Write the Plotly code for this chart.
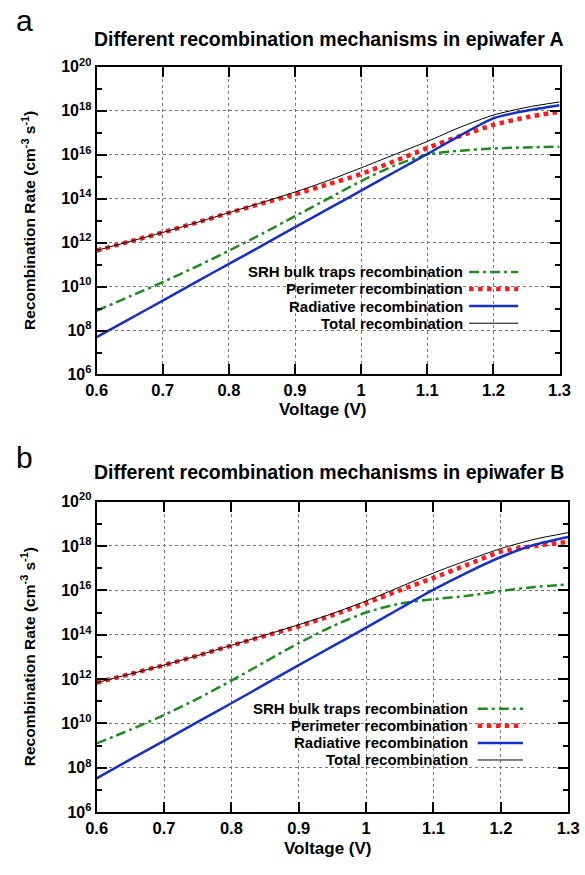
import plotly.graph_objects as go

# ---------------- data (exponents of the recombination rate, cm^-3 s^-1) -------------
voltage = [0.60, 0.65, 0.70, 0.75, 0.80, 0.85, 0.90, 0.95, 1.00, 1.05, 1.10, 1.15, 1.20, 1.25, 1.30]

srh_a_exp = [8.9, 9.55, 10.2, 10.9, 11.63, 12.4, 13.2, 14.0, 14.8, 15.5, 16.0, 16.18, 16.28, 16.33, 16.36]
per_a_exp = [11.64, 12.05, 12.46, 12.9, 13.35, 13.78, 14.2, 14.65, 15.12, 15.7, 16.3, 16.85, 17.35, 17.7, 17.95]
rad_a_exp = [7.7, 8.53, 9.36, 10.2, 11.03, 11.86, 12.7, 13.53, 14.36, 15.2, 16.03, 16.88, 17.65, 18.0, 18.25]
tot_a_exp = [11.64, 12.05, 12.46, 12.9, 13.36, 13.82, 14.3, 14.82, 15.4, 16.0, 16.6, 17.25, 17.8, 18.15, 18.4]

srh_b_exp = [9.1, 9.72, 10.38, 11.12, 11.93, 12.78, 13.62, 14.38, 15.0, 15.4, 15.6, 15.75, 15.97, 16.15, 16.26]
per_b_exp = [11.84, 12.23, 12.63, 13.06, 13.51, 13.95, 14.38, 14.88, 15.42, 16.0, 16.56, 17.15, 17.74, 18.0, 18.18]
rad_b_exp = [7.53, 8.38, 9.22, 10.07, 10.91, 11.77, 12.63, 13.47, 14.32, 15.18, 16.03, 16.8, 17.5, 18.05, 18.4]
tot_b_exp = [11.84, 12.23, 12.63, 13.06, 13.52, 13.98, 14.45, 14.95, 15.52, 16.15, 16.78, 17.35, 17.88, 18.3, 18.6]

series_names = ["SRH bulk traps recombination", "Perimeter recombination",
                "Radiative recombination", "Total recombination"]
x_ticks = [0.6, 0.7, 0.8, 0.9, 1.0, 1.1, 1.2, 1.3]
x_ticklabels = ["0.6", "0.7", "0.8", "0.9", "1", "1.1", "1.2", "1.3"]
y_tick_exps = [6, 8, 10, 12, 14, 16, 18, 20]
y_minor_exps = [7, 9, 11, 13, 15, 17, 19]
titles = ["Different recombination mechanisms in epiwafer A",
          "Different recombination mechanisms in epiwafer B"]
panel_labels = ["a", "b"]

# ---------------- styles ----------------
W, H = 585, 875
FONT = "Liberation Sans"
styles = [
    dict(color="#1f8a1f", width=2.5, dash="10px,4px,3px,4px"),
    dict(color="#ff1a1a", width=4.5, dash="4.5px,4.5px"),
    dict(color="#1530c8", width=2.5, dash="solid"),
    dict(color="#000000", width=1.0, dash="solid"),
]


def pv(e):
    return [10.0 ** v for v in e]


panels = [
    dict(data=[srh_a_exp, per_a_exp, rad_a_exp, tot_a_exp],
         left=89, right=570, top=57, bottom=372, title_y=29, label_y=10,
         xlab_y=408, leg_right=471, leg_x0=476, leg_x1=527, leg_y=[267, 284.5, 302, 319.5]),
    dict(data=[srh_b_exp, per_b_exp, rad_b_exp, tot_b_exp],
         left=89, right=579, top=502, bottom=820, title_y=472, label_y=457,
         xlab_y=857, leg_right=476, leg_x0=485, leg_x1=532, leg_y=[714, 731.5, 749, 766.5]),
]

fig = go.Figure()
annotations = []
shapes = []


def px_x(p):
    return p / W


def px_y(p):
    return 1 - p / H


for i, p in enumerate(panels):
    sfx = "" if i == 0 else str(i + 1)
    for j, e in enumerate(p["data"]):
        st = styles[j]
        fig.add_trace(go.Scatter(
            x=voltage, y=pv(e), mode="lines", name=series_names[j],
            line=dict(color=st["color"], width=st["width"], dash=st["dash"],
                      shape="spline", smoothing=0.7),
            xaxis="x" + sfx, yaxis="y" + sfx, showlegend=False,
        ))
    xa = dict(
        domain=[px_x(p["left"]), px_x(p["right"])], anchor="y" + sfx,
        range=[0.6, 1.3], tickvals=x_ticks, ticktext=x_ticklabels,
        ticks="inside", ticklen=10, tickwidth=2, tickcolor="black",
        showline=True, linewidth=2, linecolor="black", mirror="ticks",
        showgrid=True, gridcolor="#777777", griddash="dot", gridwidth=1,
        tickfont=dict(family=FONT, size=16.5, color="black", weight="bold"),
        zeroline=False,
    )
    ya = dict(
        domain=[px_y(p["bottom"]), px_y(p["top"])], anchor="x" + sfx,
        type="log", range=[6, 20],
        tickvals=[10.0 ** k for k in y_tick_exps],
        ticktext=["10<sup>%d</sup>" % k for k in y_tick_exps],
        ticks="inside", ticklen=10, tickwidth=2, tickcolor="black",
        minor=dict(tickvals=[10.0 ** k for k in y_minor_exps], ticks="inside",
                   ticklen=5, tickwidth=2, tickcolor="black", showgrid=False),
        showline=True, linewidth=2, linecolor="black", mirror="ticks",
        showgrid=True, gridcolor="#777777", griddash="dot", gridwidth=1,
        tickfont=dict(family=FONT, size=16, color="black", weight="bold"),
        zeroline=False,
    )
    fig.update_layout(**{"xaxis" + sfx: xa, "yaxis" + sfx: ya})

    # title
    annotations.append(dict(
        text="<b>%s</b>" % titles[i], x=px_x((91 + 570) / 2), y=px_y(p["title_y"]),
        xref="paper", yref="paper", xanchor="center", yanchor="middle", showarrow=False,
        font=dict(family=FONT, size=19.5, color="black")))
    # panel label
    annotations.append(dict(
        text=panel_labels[i], x=px_x(3), y=px_y(p["label_y"]),
        xref="paper", yref="paper", xanchor="left", yanchor="middle", showarrow=False,
        font=dict(family=FONT, size=30, color="black")))
    # x label
    annotations.append(dict(
        text="<b>Voltage (V)</b>", x=px_x((p["left"] + p["right"]) / 2 - 5), y=px_y(p["xlab_y"]),
        xref="paper", yref="paper", xanchor="center", yanchor="middle", showarrow=False,
        font=dict(family=FONT, size=17, color="black")))
    # y label
    annotations.append(dict(
        text="<b>Recombination Rate (cm<sup>-3</sup> s<sup>-1</sup>)</b>",
        x=px_x(18), y=px_y((p["top"] + p["bottom"]) / 2), textangle=-90,
        xref="paper", yref="paper", xanchor="center", yanchor="middle", showarrow=False,
        font=dict(family=FONT, size=15.5, color="black")))
    # legend (text right-aligned, sample to the right)
    for j, name in enumerate(series_names):
        yy = px_y(p["leg_y"][j])
        annotations.append(dict(
            text="<b>%s</b>" % name, x=px_x(p["leg_right"]), y=yy,
            xref="paper", yref="paper", xanchor="right", yanchor="middle", showarrow=False,
            borderpad=0,
            font=dict(family=FONT, size=15, color="black")))
        st = styles[j]
        shapes.append(dict(
            type="line", xref="paper", yref="paper",
            x0=px_x(p["leg_x0"]), x1=px_x(p["leg_x1"]), y0=yy, y1=yy,
            line=dict(color=st["color"], width=st["width"], dash=st["dash"])))

fig.update_layout(
    width=W, height=H, margin=dict(l=0, r=0, t=0, b=0),
    paper_bgcolor="white", plot_bgcolor="white",
    annotations=annotations, shapes=shapes, showlegend=False,
)

fig.write_html("out.html")
